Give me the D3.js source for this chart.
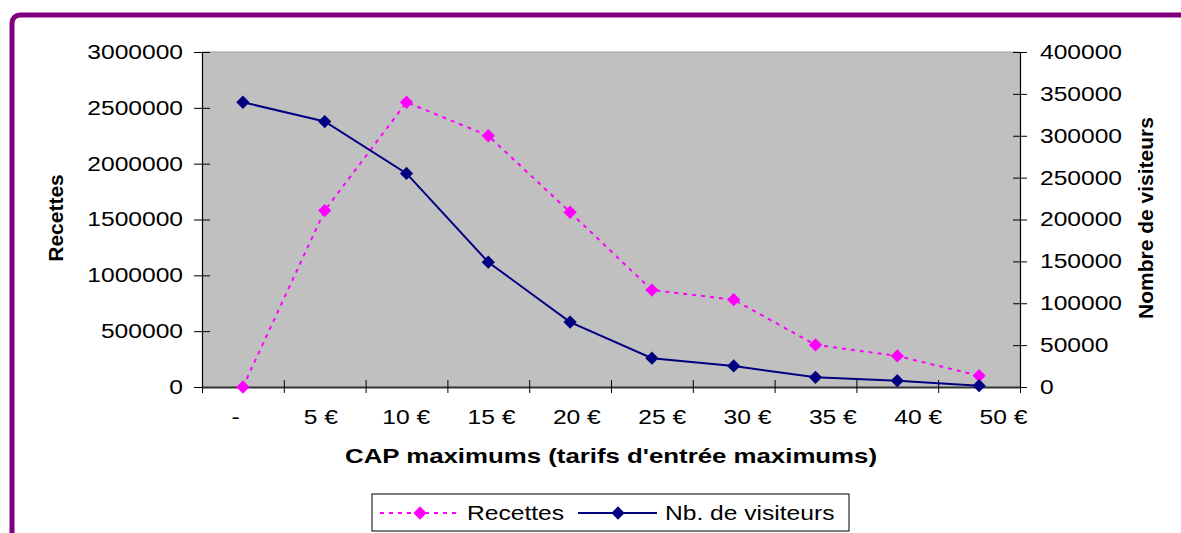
<!DOCTYPE html>
<html>
<head>
<meta charset="utf-8">
<script src="https://cdn.jsdelivr.net/npm/d3@7"></script>
<style>
  body { margin: 0; background: #fff; }
  svg text { font-family: "Liberation Sans", Arial, sans-serif; fill: #000; }
</style>
</head>
<body>
<div class="chart"></div>
<script>
// Chart data
var categories = ["-", "5 €", "10 €", "15 €", "20 €", "25 €", "30 €", "35 €", "40 €", "50 €"];
var recettes = [0, 1580000, 2550000, 2250000, 1565000, 868000, 782000, 377000, 278000, 101000];
var visiteurs = [340000, 317000, 255000, 149000, 77500, 34400, 25100, 11600, 7500, 1600];
var leftTicks = [0, 500000, 1000000, 1500000, 2000000, 2500000, 3000000];
var rightTicks = [0, 50000, 100000, 150000, 200000, 250000, 300000, 350000, 400000];
var seriesNames = ["Recettes", "Nb. de visiteurs"];

var svgWidth = 1181;
var svgHeight = 533;

var margin = { top: 52, left: 202 };
var width = 818;
var height = 335;

// the reference text is drawn a bit wider than normal
var sx = 1.23;

function stretch(sel) {
  sel.each(function() {
    var t = d3.select(this);
    var x = +t.attr("x") || 0;
    t.attr("x", x / sx).attr("transform", "scale(" + sx + ",1)");
  });
}

var svg = d3.select(".chart")
  .append("svg")
  .attr("width", svgWidth)
  .attr("height", svgHeight);

// purple frame
svg.append("rect")
  .attr("x", 12)
  .attr("y", 15)
  .attr("width", 1400)
  .attr("height", 700)
  .attr("rx", 8)
  .attr("fill", "#fff")
  .attr("stroke", "#800080")
  .attr("stroke-width", 5);

var chart = svg.append("g")
  .attr("transform", "translate(" + margin.left + "," + margin.top + ")");

// scales
var x = d3.scaleBand().domain(categories).range([0, width]);
var xEdge = d3.scaleLinear().domain([0, categories.length]).range([0, width]);
var xLab = d3.scalePoint().domain(categories).range([33, 801]);
var yLeft = d3.scaleLinear().domain([0, 3000000]).range([height, 0]);
var yRight = d3.scaleLinear().domain([0, 400000]).range([height, 0]);

function cx(d, i) { return x(categories[i]) + x.bandwidth() / 2; }

// plot area
chart.append("rect")
  .attr("width", width)
  .attr("height", height)
  .attr("fill", "#c0c0c0");

chart.append("line")
  .attr("x1", 0).attr("x2", width)
  .attr("y1", 0).attr("y2", 0)
  .attr("stroke", "#9a9a9a")
  .attr("stroke-width", 1);

// left axis
var gLeft = chart.append("g")
  .call(d3.axisLeft(yLeft).tickValues(leftTicks).tickFormat(d3.format("d")).tickSizeOuter(0));
gLeft.select(".domain").attr("stroke", "#000").attr("stroke-width", 1.2);
gLeft.selectAll(".tick line").attr("x1", -8).attr("x2", 8).attr("stroke", "#000");
gLeft.selectAll(".tick text").attr("x", -19).attr("font-size", 20)
  .attr("font-family", null).call(stretch);

// right axis
var gRight = chart.append("g")
  .attr("transform", "translate(" + width + ",0)")
  .call(d3.axisRight(yRight).tickValues(rightTicks).tickFormat(d3.format("d")).tickSizeOuter(0));
gRight.select(".domain").attr("stroke", "#000").attr("stroke-width", 1.2);
gRight.selectAll(".tick line").attr("x1", -7).attr("x2", 7).attr("stroke", "#000");
gRight.selectAll(".tick text").attr("x", 20).attr("font-size", 20)
  .attr("font-family", null).call(stretch);

// bottom axis: ticks on category edges
var gBottom = chart.append("g")
  .attr("transform", "translate(0," + height + ")")
  .call(d3.axisBottom(xEdge).tickValues(d3.range(categories.length + 1)).tickFormat("").tickSizeOuter(0));
gBottom.select(".domain").attr("stroke", "#333").attr("stroke-width", 2);
gBottom.selectAll(".tick line").attr("y1", -7).attr("y2", 6).attr("stroke", "#000");

// bottom labels
var gLab = chart.append("g")
  .attr("transform", "translate(0," + height + ")")
  .call(d3.axisBottom(xLab).tickSize(0).tickPadding(0));
gLab.select(".domain").remove();
gLab.selectAll(".tick text").attr("y", 37).attr("dy", 0).attr("font-size", 20)
  .attr("font-family", null).call(stretch);

// axis titles
svg.append("text")
  .attr("transform", "translate(611,463) scale(" + sx + ",1)")
  .attr("text-anchor", "middle")
  .attr("font-size", 21)
  .attr("font-weight", "bold")
  .text("CAP maximums (tarifs d'entrée maximums)");

svg.append("text")
  .attr("transform", "translate(63,218) rotate(-90)")
  .attr("text-anchor", "middle")
  .attr("font-size", 21)
  .attr("font-weight", "bold")
  .text("Recettes");

svg.append("text")
  .attr("transform", "translate(1153,218) rotate(-90)")
  .attr("text-anchor", "middle")
  .attr("font-size", 21)
  .attr("font-weight", "bold")
  .text("Nombre de visiteurs");

// lines
var diamond = d3.symbol().type(d3.symbolSquare).size(88);

var lineLeft = d3.line().x(cx).y(function(d) { return yLeft(d); });
var lineRight = d3.line().x(cx).y(function(d) { return yRight(d); });

chart.append("path")
  .datum(recettes)
  .attr("d", lineLeft)
  .attr("fill", "none")
  .attr("stroke", "#ff00ff")
  .attr("stroke-width", 2)
  .attr("stroke-dasharray", "4,5");

chart.append("path")
  .datum(visiteurs)
  .attr("d", lineRight)
  .attr("fill", "none")
  .attr("stroke", "#000080")
  .attr("stroke-width", 2);

chart.selectAll(".mRec")
  .data(recettes)
  .enter()
  .append("path")
  .attr("class", "mRec")
  .attr("d", diamond)
  .attr("fill", "#ff00ff")
  .attr("transform", function(d, i) {
    return "translate(" + cx(d, i) + "," + yLeft(d) + ") rotate(45)";
  });

chart.selectAll(".mVis")
  .data(visiteurs)
  .enter()
  .append("path")
  .attr("class", "mVis")
  .attr("d", diamond)
  .attr("fill", "#000080")
  .attr("transform", function(d, i) {
    return "translate(" + cx(d, i) + "," + yRight(d) + ") rotate(45)";
  });

// legend
var legend = svg.append("g").attr("transform", "translate(372,494)");

legend.append("rect")
  .attr("width", 477)
  .attr("height", 37)
  .attr("fill", "#fff")
  .attr("stroke", "#000")
  .attr("stroke-width", 1);

var legendItems = [
  { name: seriesNames[0], color: "#ff00ff", dash: "4,5", x0: 8, text: 95 },
  { name: seriesNames[1], color: "#000080", dash: null, x0: 206, text: 293 }
];

legendItems.forEach(function(d) {
  legend.append("line")
    .attr("x1", d.x0).attr("x2", d.x0 + 79)
    .attr("y1", 19).attr("y2", 19)
    .attr("stroke", d.color)
    .attr("stroke-width", 2)
    .attr("stroke-dasharray", d.dash);
  legend.append("path")
    .attr("d", diamond)
    .attr("fill", d.color)
    .attr("transform", "translate(" + (d.x0 + 40) + ",19) rotate(45)");
  legend.append("text")
    .attr("x", d.text)
    .attr("y", 26)
    .attr("font-size", 20)
    .text(d.name)
    .call(stretch);
});
</script>
</body>
</html>
